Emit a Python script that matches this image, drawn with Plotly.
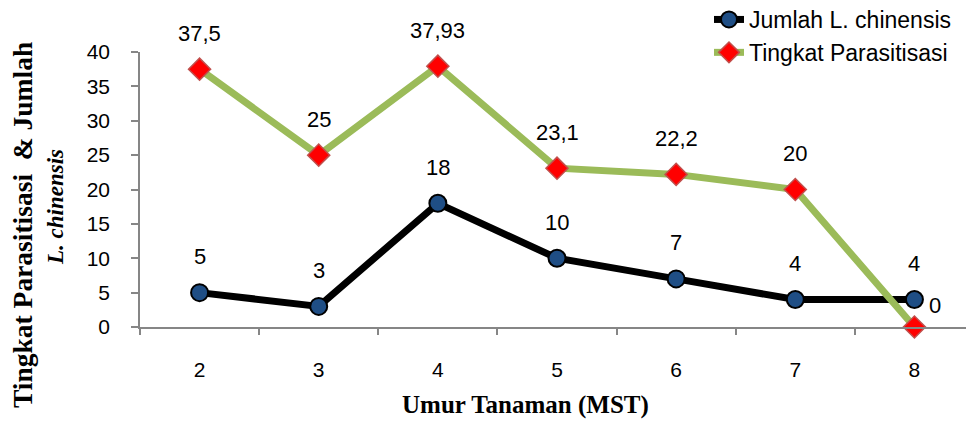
import plotly.graph_objects as go

categories = ["2", "3", "4", "5", "6", "7", "8"]
jumlah = [5, 3, 18, 10, 7, 4, 4]
tingkat = [37.5, 25, 37.93, 23.1, 22.2, 20, 0]
y_ticks = [0, 5, 10, 15, 20, 25, 30, 35, 40]

# the page body adds an 8px offset; positions below are given in screen pixels
OFF = 8
W, H = 974, 427
PW, PH = 834, 275
L, T = 140 - OFF, 52 - OFF
R = W - L - PW
B = H - T - PH

def px_x(px):
    return (px - OFF - L) / PW

def px_y(py):
    return (H - B - (py - OFF)) / PH

def fmt(v):
    return f"{v:g}".replace(".", ",")

AX = "#868686"
SANS = "Liberation Sans, Arial, sans-serif"
SERIF = "Liberation Serif, Times New Roman, serif"

fig = go.Figure()
fig.add_trace(go.Scatter(
    x=categories, y=jumlah, name="Jumlah L. chinensis",
    mode="lines+markers", cliponaxis=False,
    line=dict(color="#000000", width=7),
    marker=dict(symbol="circle", size=17, color="#1F4E85",
                line=dict(color="#000000", width=2)),
))
fig.add_trace(go.Scatter(
    x=categories, y=tingkat, name="Tingkat Parasitisasi",
    mode="lines+markers", cliponaxis=False,
    line=dict(color="#9BBB59", width=7),
    marker=dict(symbol="diamond", size=17, color="#FF0000",
                line=dict(color="#C0504D", width=1.5)),
))

ann = []
for i, v in enumerate(jumlah):
    ann.append(dict(x=i, y=v, xref="x", yref="y", text=fmt(v), showarrow=False,
                    yshift=36, font=dict(family=SANS, size=22, color="#000")))
for i, v in enumerate(tingkat):
    last = i == len(tingkat) - 1
    ann.append(dict(x=i, y=v, xref="x", yref="y", text=fmt(v), showarrow=False,
                    yshift=22 if last else 36, xshift=21 if last else 0,
                    font=dict(family=SANS, size=22, color="#000")))

# axis titles
ann.append(dict(x=px_x(22), y=px_y(225), xref="paper", yref="paper",
                text="<b>Tingkat Parasitisasi\u00a0\u00a0& Jumlah</b>", textangle=-90,
                showarrow=False, xanchor="center", yanchor="middle",
                font=dict(family=SERIF, size=27.5, color="#000")))
ann.append(dict(x=px_x(55), y=px_y(207), xref="paper", yref="paper",
                text="<b><i>L. chinensis</i></b>", textangle=-90,
                showarrow=False, xanchor="center", yanchor="middle",
                font=dict(family=SERIF, size=23, color="#000")))
ann.append(dict(x=px_x(525), y=px_y(405), xref="paper", yref="paper",
                text="<b>Umur Tanaman (MST)</b>",
                showarrow=False, xanchor="center", yanchor="middle",
                font=dict(family=SERIF, size=25, color="#000")))

fig.update_layout(
    width=W, height=H,
    margin=dict(l=L, r=R, t=T, b=B, pad=0, autoexpand=False),
    paper_bgcolor="white", plot_bgcolor="white",
    showlegend=True,
    legend=dict(xref="paper", yref="paper",
                x=px_x(709), y=px_y(-2), xanchor="left", yanchor="top",
                font=dict(family=SANS, size=23, color="#000"),
                bgcolor="rgba(0,0,0,0)", tracegroupgap=0),
    annotations=ann,
)
fig.update_xaxes(type="category", categoryorder="array", categoryarray=categories,
                 range=[-0.5, 6.5], showgrid=False, zeroline=False, automargin=False,
                 showline=True, linecolor=AX, linewidth=1.5,
                 ticks="outside", tickson="boundaries", ticklen=6, tickcolor=AX,
                 tickwidth=1.5, ticklabelstandoff=23,
                 tickfont=dict(family=SANS, size=21, color="#000"))
fig.update_yaxes(range=[0, 40], tickvals=y_ticks, showgrid=False, zeroline=False,
                 automargin=False,
                 showline=True, linecolor=AX, linewidth=1.5,
                 ticks="outside", ticklen=7, tickcolor=AX, tickwidth=1.5,
                 ticklabelstandoff=17,
                 tickfont=dict(family=SANS, size=21, color="#000"))

fig.write_html("out.html")
